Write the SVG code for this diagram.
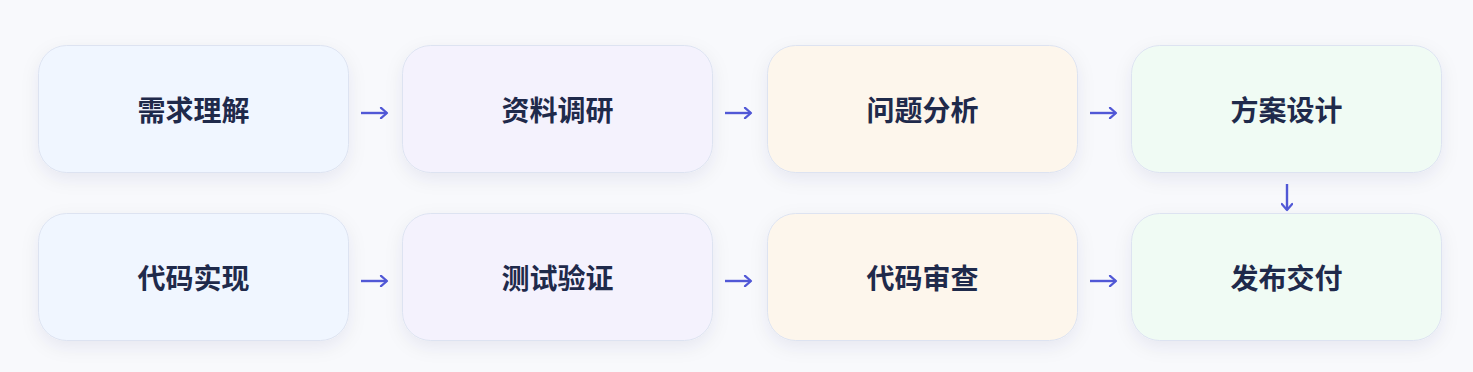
<svg xmlns="http://www.w3.org/2000/svg" width="1473" height="372" viewBox="0 0 1473 372">
  <style>
    .box { stroke: #dde3f1; stroke-width: 1; filter: url(#sh); }
    .b1 { fill: #f0f6ff; }
    .b2 { fill: #f4f2fd; }
    .b3 { fill: #fdf6ec; }
    .b4 { fill: #f0fbf4; }
    .lbl { font-family: "Noto Sans CJK SC", "Noto Sans", sans-serif; font-weight: 700; font-size: 28px; fill: #1f2a4b; text-anchor: middle; dominant-baseline: central; }
    .con { stroke: #5158d6; stroke-width: 2.4; fill: none; marker-end: url(#ah); }
  </style>
  <defs>
    <filter id="sh" x="-20%" y="-30%" width="140%" height="170%">
      <feDropShadow dx="0" dy="6" stdDeviation="9" flood-color="#1e2a5a" flood-opacity="0.07"/>
    </filter>
    <marker id="ah" viewBox="0 0 12 12" refX="10.5" refY="6" markerWidth="12" markerHeight="12" markerUnits="userSpaceOnUse" orient="auto">
      <path d="M4.5,0.8 L10.5,6 L4.5,11.2" fill="none" stroke="#5158d6" stroke-width="2.2" stroke-linecap="round" stroke-linejoin="round"/>
    </marker>
  </defs>
  <rect width="1473" height="372" fill="#f8f9fc"/>

  <g id="n1"><rect class="box b1" x="38.5" y="45.5" width="310" height="127" rx="28"/><text class="lbl" x="193.5" y="109">需求理解</text></g>
  <g id="n2"><rect class="box b2" x="402.5" y="45.5" width="310" height="127" rx="28"/><text class="lbl" x="557.5" y="109">资料调研</text></g>
  <g id="n3"><rect class="box b3" x="767.5" y="45.5" width="310" height="127" rx="28"/><text class="lbl" x="922.5" y="109">问题分析</text></g>
  <g id="n4"><rect class="box b4" x="1131.5" y="45.5" width="310" height="127" rx="28"/><text class="lbl" x="1286.5" y="109">方案设计</text></g>
  <g id="n5"><rect class="box b1" x="38.5" y="213.5" width="310" height="127" rx="28"/><text class="lbl" x="193.5" y="277">代码实现</text></g>
  <g id="n6"><rect class="box b2" x="402.5" y="213.5" width="310" height="127" rx="28"/><text class="lbl" x="557.5" y="277">测试验证</text></g>
  <g id="n7"><rect class="box b3" x="767.5" y="213.5" width="310" height="127" rx="28"/><text class="lbl" x="922.5" y="277">代码审查</text></g>
  <g id="n8"><rect class="box b4" x="1131.5" y="213.5" width="310" height="127" rx="28"/><text class="lbl" x="1286.5" y="277">发布交付</text></g>

  <g id="connectors">
    <path class="con" d="M361,113 H387"/>
    <path class="con" d="M725,113 H751"/>
    <path class="con" d="M1090,113 H1116"/>
    <path class="con" d="M1287,184 V210"/>
    <path class="con" d="M361,281 H387"/>
    <path class="con" d="M725,281 H751"/>
    <path class="con" d="M1090,281 H1116"/>
  </g>
</svg>
